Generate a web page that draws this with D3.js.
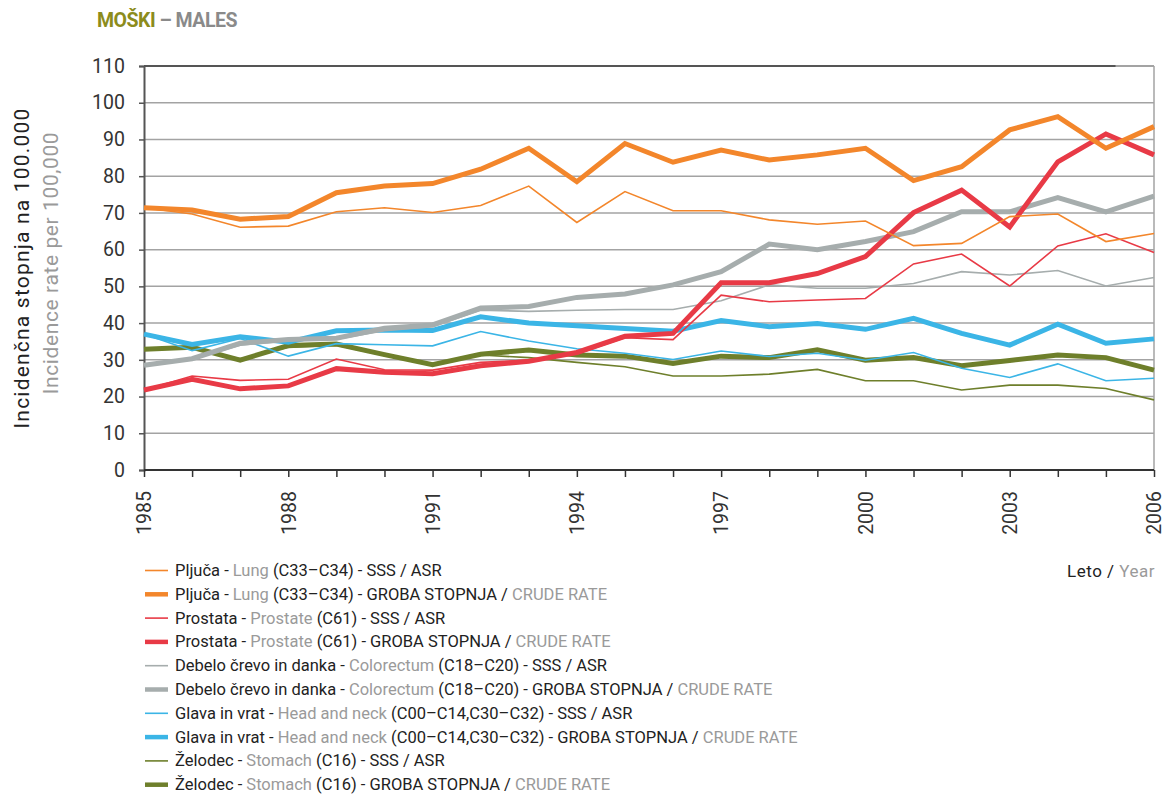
<!DOCTYPE html>
<html><head><meta charset="utf-8">
<script src="https://cdn.jsdelivr.net/npm/d3@7"></script>
<style>
html,body{margin:0;padding:0;background:#fff;}
svg text{font-family:"Roboto","Noto Sans",sans-serif;}
</style></head>
<body><svg id="c" width="1166" height="796"></svg>
<script>
const years = [1985,1986,1987,1988,1989,1990,1991,1992,1993,1994,1995,1996,1997,1998,1999,2000,2001,2002,2003,2004,2005,2006];
const xTickYears = [1985,1988,1991,1994,1997,2000,2003,2006];
const yTicks = [0,10,20,30,40,50,60,70,80,90,100,110];

const lungASR      = [71.4,69.7,66.1,66.4,70.3,71.4,70.1,72.0,77.3,67.4,75.8,70.6,70.6,68.1,66.9,67.8,61.1,61.7,69.0,69.7,62.2,64.4];
const lungCrude    = [71.4,70.8,68.3,69.0,75.5,77.3,78.0,81.9,87.6,78.5,88.9,83.8,87.1,84.4,85.8,87.6,78.8,82.6,92.6,96.2,87.6,93.5];
const prostateASR  = [21.8,25.6,24.4,24.7,30.2,27.3,27.2,29.3,29.9,31.6,36.0,35.5,47.6,45.8,46.3,46.7,56.1,58.8,50.1,61.0,64.3,59.2];
const prostateCrude= [21.8,24.7,22.1,22.9,27.6,26.6,26.2,28.4,29.6,32.0,36.4,37.2,51.0,51.0,53.5,58.1,70.1,76.2,66.2,83.9,91.5,85.8];
const colorASR     = [28.5,30.2,34.0,35.2,35.6,37.9,39.0,43.5,43.2,43.5,43.7,43.7,46.1,50.4,49.5,49.5,50.8,54.0,53.1,54.3,50.1,52.4];
const colorCrude   = [28.5,30.3,34.5,35.5,35.9,38.6,39.5,44.1,44.5,47.0,47.9,50.4,54.0,61.5,60.0,62.2,64.9,70.3,70.3,74.2,70.3,74.6];
const hnASR        = [37.0,32.5,35.8,31.0,34.4,34.1,33.8,37.7,35.1,33.0,31.8,30.1,32.4,30.9,31.8,29.9,32.0,27.7,25.2,28.9,24.3,25.0];
const hnCrude      = [37.0,34.2,36.3,34.8,37.9,38.1,38.0,41.7,40.0,39.3,38.5,37.8,40.7,39.0,39.9,38.3,41.3,37.2,34.0,39.7,34.5,35.7];
const stomachASR   = [32.9,33.2,30.3,33.4,34.0,31.2,28.6,31.3,30.6,29.3,28.1,25.6,25.6,26.1,27.4,24.3,24.3,21.8,23.1,23.1,22.2,19.1];
const stomachCrude = [32.9,33.4,29.9,33.9,34.3,31.4,28.7,31.5,32.7,31.3,31.0,29.0,31.0,30.6,32.7,29.9,30.6,28.4,29.8,31.3,30.6,27.2];

const siteSl = ["Pljuča","Prostata","Debelo črevo in danka","Glava in vrat","Želodec"];
const siteEn = ["Lung","Prostate","Colorectum","Head and neck","Stomach"];
const siteCode = ["(C33–C34)","(C61)","(C18–C20)","(C00–C14,C30–C32)","(C16)"];
const siteColor = ["#f3862b","#e83a46","#a6adad","#3bb5e6","#6e7f2b"];
const asrSeries = [lungASR,prostateASR,colorASR,hnASR,stomachASR];
const crudeSeries = [lungCrude,prostateCrude,colorCrude,hnCrude,stomachCrude];

const svg = d3.select("#c");
const L = 144, R = 1154, T = 66, B = 470;
const x = d3.scaleLinear().domain([1985,2006]).range([L,R]);
const y = d3.scaleLinear().domain([0,110]).range([B,T]);

// title
const title = svg.append("text").attr("x",97).attr("y",27)
  .style("font-size","19.5px").style("font-weight","bold").style("letter-spacing","-0.5px");
title.append("tspan").attr("fill","#8c8c1c").text("MOŠKI");
title.append("tspan").attr("fill","#8a8a8a").text(" – MALES");

// gridlines
svg.append("g").selectAll("line").data(yTicks.filter(d=>d>0)).join("line")
  .attr("x1",L).attr("x2",R).attr("y1",d=>y(d)).attr("y2",d=>y(d))
  .attr("stroke",d=>d===110?"#555":"#a3a3a3").attr("stroke-width",d=>d===110?2:1.5);
svg.append("line").attr("x1",x(2005.2)).attr("x2",R).attr("y1",y(110)).attr("y2",y(110))
  .attr("stroke","#a3a3a3").attr("stroke-width",2);
svg.append("line").attr("x1",R).attr("x2",R).attr("y1",T).attr("y2",B)
  .attr("stroke","#a3a3a3").attr("stroke-width",1.5);

// y axis
const yAxis = svg.append("g").attr("transform",`translate(${L},0)`)
  .call(d3.axisLeft(y).tickValues(yTicks).tickSize(5).tickPadding(14));
yAxis.select(".domain").attr("stroke","#555").attr("stroke-width",2);
yAxis.selectAll(".tick line").attr("stroke","#555").attr("stroke-width",1.5);
yAxis.selectAll("text").style("font-size","19.5px").attr("fill","#333").attr("font-family","Roboto");

// x axis
const xAxis = svg.append("g").attr("transform",`translate(0,${B})`)
  .call(d3.axisBottom(x).tickValues(years).tickSize(7).tickFormat(d=>xTickYears.includes(d)?String(d):""));
xAxis.select(".domain").attr("stroke","#333").attr("stroke-width",2).attr("d",`M${L},0H${R}`);
xAxis.selectAll(".tick line").attr("stroke","#333").attr("stroke-width",1.5);
xAxis.selectAll("text").style("font-size","19.5px").attr("fill","#333").attr("font-family","Roboto")
  .attr("transform","rotate(-90)").attr("text-anchor","end").attr("x",-21).attr("y",0).attr("dy","0.35em");

// axis titles
svg.append("text").attr("transform","translate(29,268) rotate(-90)").attr("text-anchor","middle")
  .style("font-size","21px").style("letter-spacing","1.2px").attr("fill","#222").text("Incidenčna stopnja na 100.000");
svg.append("text").attr("transform","translate(58,263) rotate(-90)").attr("text-anchor","middle")
  .style("font-size","21px").style("letter-spacing","0.6px").attr("fill","#9a9a9a").text("Incidence rate per 100,000");

const yr = svg.append("text").attr("x",1155).attr("y",577).attr("text-anchor","end")
  .style("font-size","17px").style("letter-spacing","0.5px");
yr.append("tspan").attr("fill","#222").text("Leto / ");
yr.append("tspan").attr("fill","#9a9a9a").text("Year");

// lines
const line = d3.line().x((d,i)=>x(years[i])).y(d=>y(d));
const g = svg.append("g").attr("fill","none").attr("stroke-linejoin","miter");
for (let s = siteSl.length-1; s >= 0; s--) {
  g.append("path").datum(asrSeries[s]).attr("d",line).attr("stroke",siteColor[s]).attr("stroke-width",1.6);
  g.append("path").datum(crudeSeries[s]).attr("d",line).attr("stroke",siteColor[s]).attr("stroke-width",5);
}

// legend
const lg = svg.append("g");
let row = 0;
siteSl.forEach((sl,s)=>{
  [0,1].forEach(k=>{
    const cy = 570.5 + row*23.8;
    lg.append("line").attr("x1",145).attr("x2",168).attr("y1",cy).attr("y2",cy)
      .attr("stroke",siteColor[s]).attr("stroke-width",k?4.5:1.6);
    const t = lg.append("text").attr("x",175).attr("y",cy).attr("dy","0.33em").style("font-size","16.5px");
    t.append("tspan").attr("fill","#222").text(sl+" - ");
    t.append("tspan").attr("fill","#9a9a9a").text(siteEn[s]);
    if (k===0) {
      t.append("tspan").attr("fill","#222").text(" "+siteCode[s]+" - SSS / ASR");
    } else {
      t.append("tspan").attr("fill","#222").text(" "+siteCode[s]+" - GROBA STOPNJA / ");
      t.append("tspan").attr("fill","#9a9a9a").text("CRUDE RATE");
    }
    row++;
  });
});
</script></body></html>
